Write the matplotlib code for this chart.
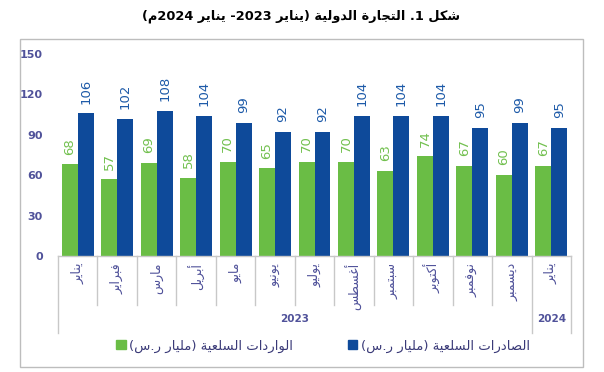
import matplotlib
matplotlib.use("Agg")
import matplotlib.pyplot as plt
from matplotlib.patches import Rectangle, Patch
import numpy as np

# ---------------- data ----------------
months = ["يناير", "فبراير", "مارس", "أبريل", "مايو", "يونيو", "يوليو",
          "أغسطس", "سبتمبر", "أكتوبر", "نوفمبر", "ديسمبر", "يناير"]
year_labels = ["2023", "2024"]
year_counts = [12, 1]
imports = [68, 57, 69, 58, 70, 65, 70, 70, 63, 74, 67, 60, 67]
exports = [106, 102, 108, 104, 99, 92, 92, 104, 104, 104, 95, 99, 95]
yticks = [0, 30, 60, 90, 120, 150]
title = "شكل 1. التجارة الدولية (يناير 2023- يناير 2024م)"
imports_label = "الواردات السلعية (مليار ر.س)"
exports_label = "الصادرات السلعية (مليار ر.س)"

# ---------------- minimal Arabic shaping + bidi ----------------
LETTERS = {
    'ء': (0xFE80, 'U'), 'آ': (0xFE81, 'R'), 'أ': (0xFE83, 'R'), 'ؤ': (0xFE85, 'R'),
    'إ': (0xFE87, 'R'), 'ئ': (0xFE89, 'D'), 'ا': (0xFE8D, 'R'), 'ب': (0xFE8F, 'D'),
    'ة': (0xFE93, 'R'), 'ت': (0xFE95, 'D'), 'ث': (0xFE99, 'D'), 'ج': (0xFE9D, 'D'),
    'ح': (0xFEA1, 'D'), 'خ': (0xFEA5, 'D'), 'د': (0xFEA9, 'R'), 'ذ': (0xFEAB, 'R'),
    'ر': (0xFEAD, 'R'), 'ز': (0xFEAF, 'R'), 'س': (0xFEB1, 'D'), 'ش': (0xFEB5, 'D'),
    'ص': (0xFEB9, 'D'), 'ض': (0xFEBD, 'D'), 'ط': (0xFEC1, 'D'), 'ظ': (0xFEC5, 'D'),
    'ع': (0xFEC9, 'D'), 'غ': (0xFECD, 'D'), 'ف': (0xFED1, 'D'), 'ق': (0xFED5, 'D'),
    'ك': (0xFED9, 'D'), 'ل': (0xFEDD, 'D'), 'م': (0xFEE1, 'D'), 'ن': (0xFEE5, 'D'),
    'ه': (0xFEE9, 'D'), 'و': (0xFEED, 'R'), 'ى': (0xFEEF, 'R'), 'ي': (0xFEF1, 'D'),
}
LAMALEF = {'آ': 0xFEF5, 'أ': 0xFEF7, 'إ': 0xFEF9, 'ا': 0xFEFB}
MIRROR = {'(': ')', ')': '('}


def shape(text):
    units = []
    i = 0
    while i < len(text):
        c = text[i]
        if c == 'ل' and i + 1 < len(text) and text[i + 1] in LAMALEF:
            units.append((LAMALEF[text[i + 1]], 'R'))
            i += 2
            continue
        if c in LETTERS:
            units.append(LETTERS[c])
        else:
            units.append(c)
        i += 1
    out = []
    n = len(units)
    for k, u in enumerate(units):
        if isinstance(u, str):
            out.append(u)
            continue
        base, typ = u
        prev = units[k - 1] if k > 0 else None
        nxt = units[k + 1] if k + 1 < n else None
        pj = prev is not None and not isinstance(prev, str) and prev[1] == 'D'
        nj = typ == 'D' and nxt is not None and not isinstance(nxt, str)
        if typ == 'U':
            off = 0
        elif typ == 'R':
            off = 1 if pj else 0
        else:
            off = {(False, False): 0, (True, False): 1,
                   (False, True): 2, (True, True): 3}[(pj, nj)]
        out.append(chr(base + off))
    return ''.join(out)


def ar(text):
    s = shape(text)
    tokens = []
    buf = ''
    for c in s:
        if c.isdigit():
            buf += c
        else:
            if buf:
                tokens.append(buf)
                buf = ''
            tokens.append(MIRROR.get(c, c))
    if buf:
        tokens.append(buf)
    return ''.join(reversed(tokens))


# ---------------- figure ----------------
W, H = 604, 372
fig = plt.figure(figsize=(W / 100, H / 100), dpi=100)
fig.patch.set_facecolor('white')

green = '#6abd45'
blue = '#0e4a9a'
green_txt = '#72c04f'
blue_txt = '#1d5aa8'
axis_txt = '#50529a'
grid_gray = '#c8c8c8'

ax_left, ax_right = 58, 571
ax_top, ax_bot = 54, 256
ax = fig.add_axes([ax_left / W, 1 - ax_bot / H, (ax_right - ax_left) / W, (ax_bot - ax_top) / H])

x = np.arange(len(months))
bw = 0.405
ax.bar(x - bw / 2, imports, width=bw, color=green, zorder=2)
ax.bar(x + bw / 2, exports, width=bw, color=blue, zorder=2)

for xi, v in zip(x, imports):
    ax.annotate(str(v), (xi - bw / 2, v), xytext=(0, 7), textcoords='offset points',
                rotation=90, ha='center', va='bottom', fontsize=9.5, color=green_txt)
for xi, v in zip(x, exports):
    ax.annotate(str(v), (xi + bw / 2, v), xytext=(0, 7), textcoords='offset points',
                rotation=90, ha='center', va='bottom', fontsize=9.5, color=blue_txt)

ax.set_xlim(-0.5, len(months) - 0.5)
ax.set_ylim(0, 150)
ax.set_yticks(yticks)
ax.set_yticklabels([str(t) for t in yticks])
ax.tick_params(axis='y', length=0, pad=11, labelsize=8, labelcolor=axis_txt)
for lab in ax.get_yticklabels():
    lab.set_fontweight('bold')
ax.set_xticks([])
for s in ['left', 'right', 'top']:
    ax.spines[s].set_visible(False)
ax.spines['bottom'].set_color(grid_gray)
ax.spines['bottom'].set_linewidth(1)

trans = ax.get_xaxis_transform()
ah = ax_bot - ax_top
short_y = -(305 - ax_bot) / ah
long_y = -(333 - ax_bot) / ah
lab_y = -(263 - ax_bot) / ah
year_y = -(319 - ax_bot) / ah

# month labels
for xi, m in zip(x, months):
    ax.text(xi, lab_y, ar(m), transform=trans, rotation=90, ha='center', va='top',
            fontsize=9, color=axis_txt, family='DejaVu Sans')

# dividers
boundaries_year = [-0.5]
acc = -0.5
for c in year_counts:
    acc += c
    boundaries_year.append(acc)
for b in np.arange(-0.5, len(months) + 0.5, 1.0):
    ylow = long_y if any(abs(b - by) < 1e-9 for by in boundaries_year) else short_y
    ax.plot([b, b], [0, ylow], transform=trans, color=grid_gray, lw=1, clip_on=False)

# year labels
for i, (yl, c) in enumerate(zip(year_labels, year_counts)):
    cx = (boundaries_year[i] + boundaries_year[i + 1]) / 2
    ax.text(cx, year_y, yl, transform=trans, ha='center', va='center',
            fontsize=7.5, fontweight='bold', color=axis_txt)

# border
fig.add_artist(Rectangle((20 / W, 1 - 367 / H), 563 / W, 328 / H, transform=fig.transFigure,
                         fill=False, ec='#bdbdbd', lw=1))

# title
fig.text(301 / W, 1 - 16 / H, ar(title), ha='center', va='center', fontsize=9.3,
         fontweight='bold', color='black', family='DejaVu Sans')

# legend
handles = [Patch(color=green), Patch(color=blue)]
labels = [ar(imports_label), ar(exports_label)]
fig.legend(handles, labels, loc='center', bbox_to_anchor=(323 / W, 1 - 346 / H), ncol=2,
           frameon=False, handlelength=0.7, handleheight=0.7, handletextpad=0.25,
           columnspacing=4.2, prop={'family': 'DejaVu Sans', 'size': 9.5},
           labelcolor='#3a3a78')

fig.savefig('out.png', dpi=100, facecolor='white')
